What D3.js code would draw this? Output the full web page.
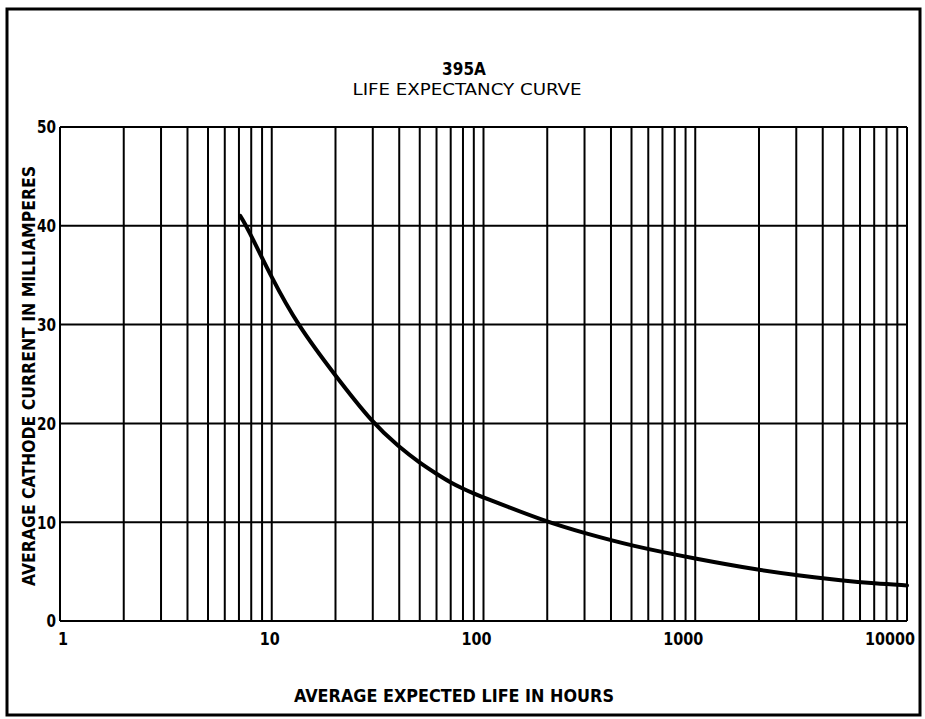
<!DOCTYPE html>
<html>
<head>
<meta charset="utf-8">
<script src="https://cdn.jsdelivr.net/npm/d3@7"></script>
<style>
  html, body { margin: 0; padding: 0; background: #fff; }
  svg text { font-family: "DejaVu Sans Condensed", "Liberation Sans Narrow", sans-serif; fill: #000; }
</style>
</head>
<body>
<script>
// valeurs
const hours = [7.1, 7.6, 10, 13.2, 20, 30, 40, 50, 60, 70, 80, 90, 100, 200, 300, 500, 1000, 2000, 3000, 5000, 7000, 10000];
const current = [41.0, 40.0, 34.7, 30.0, 24.8, 20.0, 17.6, 16.0, 14.9, 14.0, 13.4, 12.9, 12.5, 10.0, 8.9, 7.6, 6.3, 5.15, 4.65, 4.08, 3.8, 3.6];

const yTicks = [0, 10, 20, 30, 40, 50];
const xTicks = [1, 10, 100, 1000, 10000];
const decades = [1, 10, 100, 1000];
const multiples = [1, 2, 3, 4, 5, 6, 7, 8, 9];

const width = 925;
const height = 719;
const margin = { left: 60, right: 18, top: 127, bottom: 98 };

const svg = d3.select("body").append("svg")
    .attr("width", width)
    .attr("height", height);

// cadre extérieur
svg.append("rect")
    .attr("x", 7).attr("y", 9)
    .attr("width", 913).attr("height", 706)
    .attr("fill", "none").attr("stroke", "#000").attr("stroke-width", 3);

const x = d3.scaleLog()
    .domain([1, 10000])
    .range([margin.left, width - margin.right]);

const y = d3.scaleLinear()
    .domain([0, 50])
    .range([height - margin.bottom, margin.top]);

// grille verticale (1..9 par décade)
const gridX = [];
decades.forEach(d => multiples.forEach(m => gridX.push(d * m)));
gridX.push(10000);

svg.append("g")
    .selectAll("line")
    .data(gridX)
    .enter()
    .append("line")
    .attr("x1", d => x(d)).attr("x2", d => x(d))
    .attr("y1", y(0)).attr("y2", y(50))
    .attr("stroke", "#000").attr("stroke-width", 2);

// grille horizontale
svg.append("g")
    .selectAll("line")
    .data(yTicks)
    .enter()
    .append("line")
    .attr("x1", x(1)).attr("x2", x(10000))
    .attr("y1", d => y(d)).attr("y2", d => y(d))
    .attr("stroke", "#000").attr("stroke-width", 2);

// étiquettes Y
svg.append("g")
    .selectAll("text")
    .data(yTicks)
    .enter()
    .append("text")
    .attr("x", margin.left - 4)
    .attr("y", d => y(d))
    .attr("dy", "0.36em")
    .attr("text-anchor", "end")
    .attr("textLength", d => 9.5 * String(d).length)
    .attr("lengthAdjust", "spacingAndGlyphs")
    .style("font-size", "18px").style("font-weight", "bold")
    .text(d => d);

// étiquettes X
svg.append("g")
    .selectAll("text")
    .data(xTicks)
    .enter()
    .append("text")
    .attr("x", d => x(d) + 8 - 5 * String(d).length)
    .attr("y", y(0) + 24)
    .attr("text-anchor", "middle")
    .attr("textLength", d => 10 * String(d).length)
    .attr("lengthAdjust", "spacingAndGlyphs")
    .style("font-size", "18px").style("font-weight", "bold")
    .text(d => d);

// courbe (lissée)
const line = d3.line()
    .x((d, i) => x(hours[i]))
    .y(d => y(d))
    .curve(d3.curveBasis);

svg.append("path")
    .attr("d", line(current))
    .attr("fill", "none")
    .attr("stroke", "#000")
    .attr("stroke-width", 4)
    .attr("stroke-linecap", "round");

// titres
svg.append("text")
    .attr("x", 464).attr("y", 75)
    .attr("text-anchor", "middle")
    .style("font-size", "17px").style("font-weight", "bold")
    .text("395A");

svg.append("text")
    .attr("x", 467).attr("y", 95)
    .attr("text-anchor", "middle")
    .attr("textLength", 229).attr("lengthAdjust", "spacingAndGlyphs")
    .style("font-size", "16px")
    .text("LIFE EXPECTANCY CURVE");

svg.append("text")
    .attr("x", 454).attr("y", 702)
    .attr("text-anchor", "middle")
    .attr("textLength", 320).attr("lengthAdjust", "spacingAndGlyphs")
    .style("font-size", "18px").style("font-weight", "bold")
    .text("AVERAGE EXPECTED LIFE IN HOURS");

svg.append("text")
    .attr("transform", "translate(35,376) rotate(-90)")
    .attr("text-anchor", "middle")
    .attr("textLength", 420).attr("lengthAdjust", "spacingAndGlyphs")
    .style("font-size", "17px").style("font-weight", "bold")
    .text("AVERAGE CATHODE CURRENT IN MILLIAMPERES");
</script>
</body>
</html>
